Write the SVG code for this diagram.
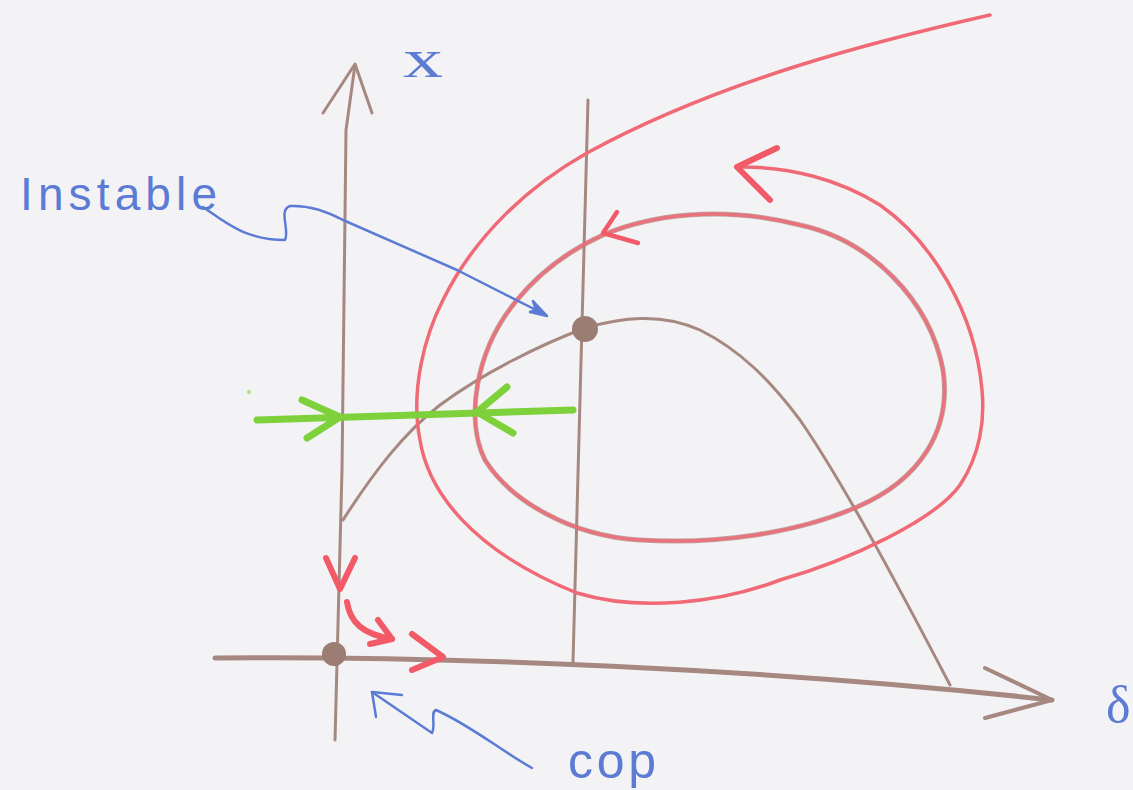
<svg xmlns="http://www.w3.org/2000/svg" width="1133" height="790" viewBox="0 0 1133 790">
<style>
.br{fill:none;stroke:#a68880;stroke-width:3;stroke-linecap:round;stroke-linejoin:round}
.rd{fill:none;stroke:#f06a76;stroke-width:3.5;stroke-linecap:round;stroke-linejoin:round}
.rdt{fill:none;stroke:#f25a68;stroke-width:6;stroke-linecap:round;stroke-linejoin:round}
.bl{fill:none;stroke:#5b7bd5;stroke-width:2.5;stroke-linecap:round;stroke-linejoin:round}
.gr{fill:none;stroke:#7fd13b;stroke-width:7;stroke-linecap:round;stroke-linejoin:round}
.lbl{fill:#5b7bd5;font-family:"Liberation Sans",Arial,sans-serif}
.dot{fill:#9c7d73}
</style>
<rect width="1133" height="790" fill="#f3f3f6"/>
<g id="connectors">
  <!-- x axis (vertical) -->
  <path class="br" d="M335,740 L342,470 L346,130 L355,65"/>
  <path class="br" d="M323,113 L355,64 L372,113"/>
  <!-- delta axis (horizontal) -->
  <path class="br" style="stroke-width:5" d="M215,658 C450,656 760,668 1052,700"/>
  <path class="br" style="stroke-width:4" d="M985,668 L1052,700 L985,718"/>
  <!-- second vertical line -->
  <path class="br" d="M588,100 L573,662"/>
  <!-- brown curve -->
  <path class="br" d="M343,520 C375,470 405,432 440,405 C485,372 540,345 585,328 C620,318 660,312 700,330 C740,350 770,380 800,420 C840,478 890,570 950,685"/>
  <!-- inner loop (brown under red) -->
  <path class="br" style="stroke-width:5;opacity:0.7" d="M603,235 C650,215 720,205 800,225 C870,240 930,300 943,370 C952,430 920,480 857,507 C800,532 720,545 640,540 C570,536 510,500 485,460 C465,420 475,350 517,300 C540,272 570,250 603,235 Z"/>
  <path class="rd" style="opacity:0.85" d="M603,235 C650,215 720,205 800,225 C870,240 930,300 943,370 C952,430 920,480 857,507 C800,532 720,545 640,540 C570,536 510,500 485,460 C465,420 475,350 517,300 C540,272 570,250 603,235 Z"/>
  <path class="rdt" style="stroke-width:4.5" d="M617,212 L603,233 L638,243"/>
  <!-- outer spiral -->
  <path class="rd" d="M990,15 C880,40 720,80 587,153 C530,185 475,235 443,300 C425,335 410,390 420,440 C428,490 470,550 577,593 C640,612 720,603 780,580 C850,560 935,520 960,485 C980,455 985,420 982,390 C975,310 930,240 880,205 C840,180 790,166 737,167"/>
  <path class="rdt" d="M777,148 L737,167 L770,200"/>
  <!-- green arrows -->
  <path class="gr" d="M257,420 L573,410"/>
  <path class="gr" d="M302,400 L340,417 L307,438"/>
  <path class="gr" d="M507,387 L477,412 L513,433"/>
  <circle cx="249" cy="392" r="2" fill="#a8e07a"/>
  <!-- red arrows near origin -->
  <path class="rdt" d="M326,558 L340,589 L355,558"/>
  <path class="rdt" d="M347,602 C350,622 362,634 392,639"/>
  <path class="rdt" d="M378,620 L392,639 L370,644"/>
  <path class="rdt" d="M412,634 L443,657 L412,670"/>
  <!-- Instable pointer -->
  <path class="bl" d="M203,207 C225,222 245,240 285,240 C290,230 278,210 290,206 C310,205 330,213 343,220 L457,270 L546,315"/>
  <path class="bl" style="fill:#5b7bd5" d="M547,316 L533,301 L536,310 L530,312 Z"/>
  <!-- cop pointer -->
  <path class="bl" d="M372,692 L432,733 C436,725 430,712 436,710 C470,725 500,750 532,768"/>
  <path class="bl" d="M402,695 L372,692 L376,717"/>
</g>
<g id="node-unstable"><circle class="dot" cx="585" cy="329" r="13"/></g>
<g id="node-origin"><circle class="dot" cx="334" cy="654" r="12"/></g>
<g id="label-x"><text class="lbl" x="403" y="77" font-size="54" textLength="40" lengthAdjust="spacingAndGlyphs" style="font-family:'Liberation Serif',serif">x</text></g>
<g id="label-delta"><text class="lbl" x="1106" y="722" font-size="52" style="font-family:'Liberation Serif',serif">δ</text></g>
<g id="label-instable"><text class="lbl" x="20" y="210" font-size="46" textLength="197" lengthAdjust="spacing">Instable</text></g>
<g id="label-cop"><text class="lbl" x="568" y="778" font-size="50" textLength="88" lengthAdjust="spacing">cop</text></g>
</svg>
